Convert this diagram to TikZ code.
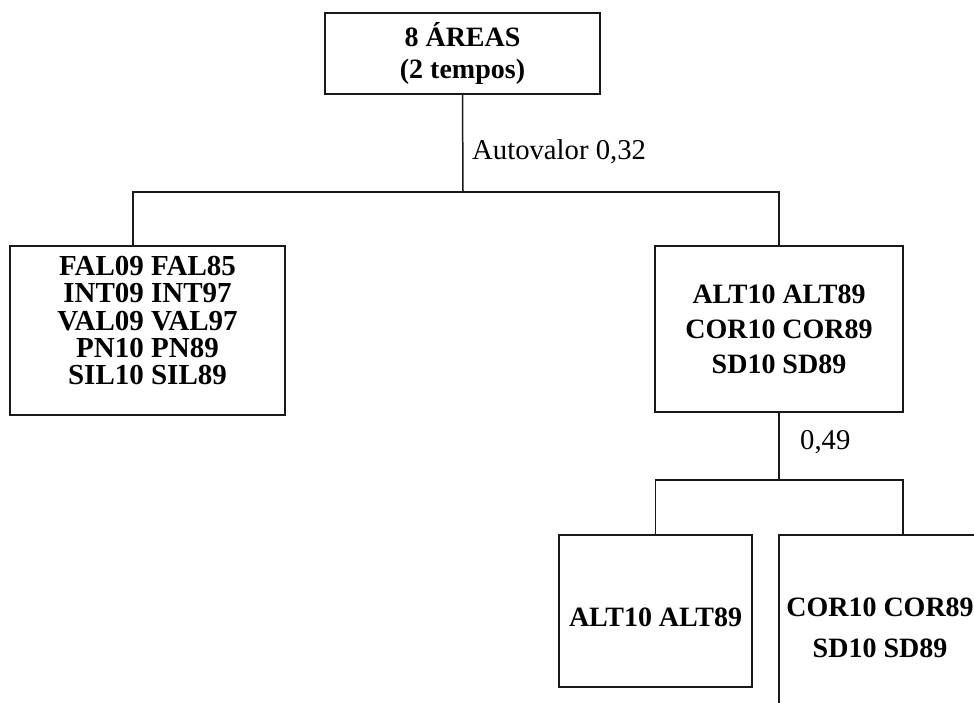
\documentclass[tikz,border=0pt]{standalone}
\usepackage{fontspec}
\setmainfont{Liberation Serif}
\begin{document}
\begin{tikzpicture}[x=1pt,y=-1pt,
  box/.style={draw=black!90, line width=1.5pt, align=center, inner sep=0pt},
  conn/.style={draw=black!90, line width=1.5pt},
  lbl/.style={anchor=base west, inner sep=0pt, font=\fontsize{28.7}{32}\selectfont}]
\useasboundingbox (0,0) rectangle (974,702);
\clip (0,0) rectangle (974,702);
\fill[white] (0,0) rectangle (974,702);

\node[box, minimum width=275pt, minimum height=81pt,
      font=\bfseries\fontsize{28}{32}\selectfont] (top) at (462.5,53.5)
  {8 ÁREAS\\(2 tempos)};

\node[box, minimum width=275pt, minimum height=169pt,
      font=\bfseries\fontsize{29}{27.3}\selectfont] (left) at (147.5,330.5)
  {FAL09 FAL85\\INT09 INT97\\VAL09 VAL97\\PN10 PN89\\SIL10 SIL89\rule[-20pt]{0pt}{20pt}};

\node[box, minimum width=248pt, minimum height=166pt,
      font=\bfseries\fontsize{28}{35}\selectfont] (right) at (779,329)
  {ALT10 ALT89\\COR10 COR89\\SD10 SD89};

\node[box, minimum width=193pt, minimum height=152pt,
      font=\bfseries\fontsize{28}{35}\selectfont] (ll) at (655.5,611)
  {\rule{0pt}{31pt}ALT10 ALT89};

\node[box, minimum width=202pt, minimum height=185pt,
      font=\bfseries\fontsize{28}{41}\selectfont] (rr) at (880,627.5)
  {COR10 COR89\\SD10 SD89};

\coordinate (j1) at (463,192);
\coordinate (lj) at (133,192);
\draw[conn] (top.south) -- (j1);
\draw[conn] (lj |- left.north) -- (lj) -- (lj -| right.north) -- (right.north);

\coordinate (j2) at (779,480);
\coordinate (rj) at (903,480);
\draw[conn] (right.south) -- (j2);
\draw[conn] (ll.north) |- (rj) -- (rj |- rr.north);

\node[lbl] (ev1) at (472,159) {Autovalor 0,32};
\node[lbl] (ev2) at (800,449) {0,49};
\end{tikzpicture}
\end{document}
